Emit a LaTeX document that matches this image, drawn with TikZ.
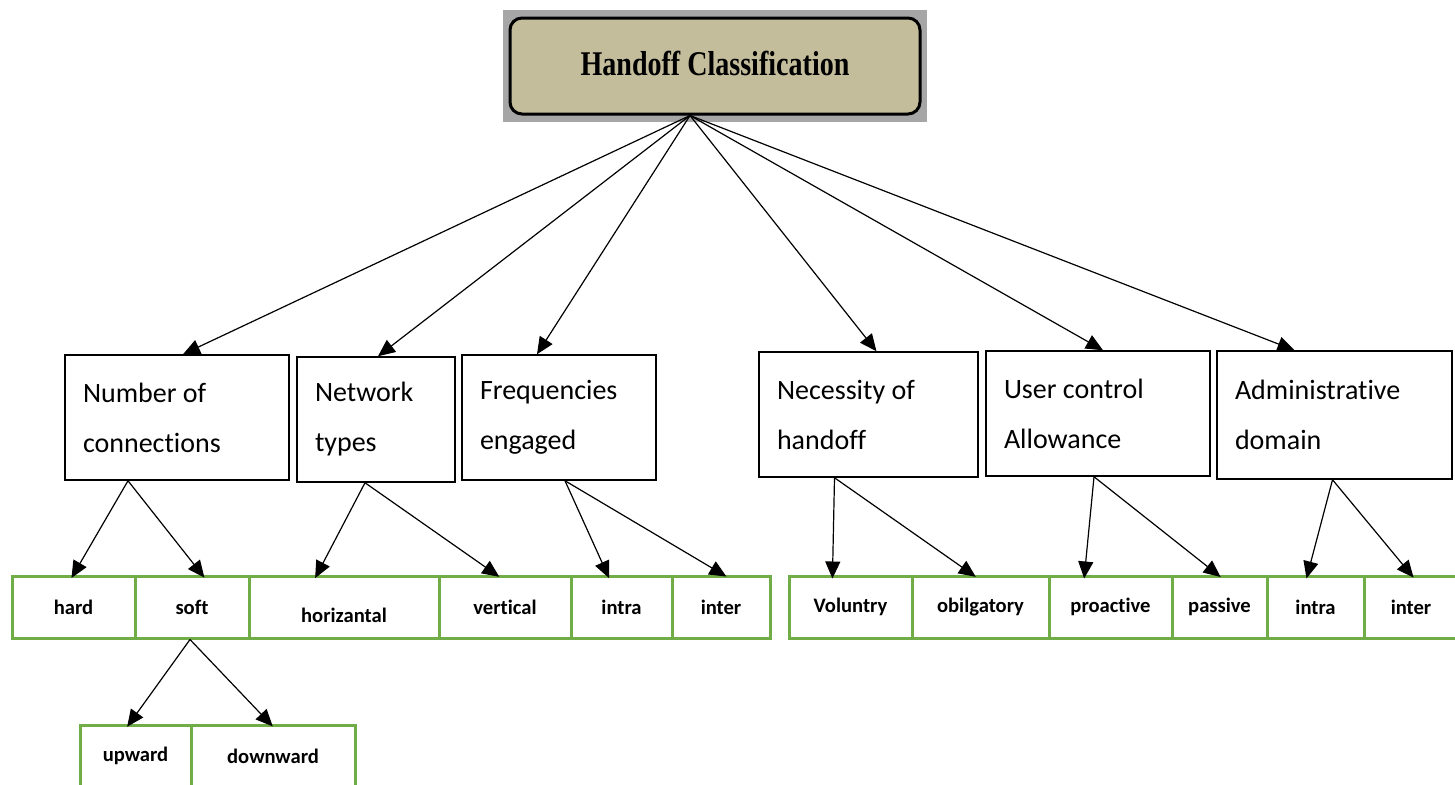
\documentclass[tikz,border=0pt]{standalone}
\usepackage{fontspec}
\usepackage{tikz}
\usetikzlibrary{arrows.meta,calc,positioning}
\newfontfamily\carlito[Ligatures=NoCommon]{Carlito}
\newfontfamily\titlefont{Liberation Serif}
\definecolor{tan}{RGB}{196,189,155}
\definecolor{framegray}{RGB}{166,166,166}
\definecolor{cellgreen}{RGB}{112,173,71}
\tikzstyle{arrow} = [line width=0.6pt, -{Triangle[length=8.5pt,width=7.5pt]}]

\begin{document}
\begin{tikzpicture}[x=0.5pt,y=-0.5pt]
\tikzset{midbox/.style={draw,line width=0.75pt,align=flush left,inner xsep=9pt,minimum height=62.5pt,
  font=\carlito\fontsize{14}{25}\selectfont},
  cell/.style={draw=cellgreen,line width=1.5pt,inner sep=0pt,minimum height=31pt,
  font=\carlito\bfseries\fontsize{10.3}{12}\selectfont}}
\clip (0,0) rectangle (1455,784);

% title
\fill[framegray] (503,10) rectangle (927,122);
\node[draw,line width=1.5pt,fill=tan,rounded corners=6pt,minimum width=205pt,minimum height=48pt]
  (title) at (715,66) {\raisebox{2.5pt}{\titlefont\bfseries\fontsize{16.5}{18}\selectfont\scalebox{0.85}[1.05]{Handoff Classification}}};

% classes
\node[midbox,minimum width=112pt,text width=94pt] (noc) at (177,417.5) {Number of\\connections};
\node[midbox,minimum width=79pt,text width=61pt] (net) at (376,419.5) {Network\\types};
\node[midbox,minimum width=97pt,text width=79pt] (frq) at (559,417.5) {Frequencies\\engaged};
\node[midbox,minimum width=109.5pt,text width=91.5pt] (nec) at (868.5,414.5) {Necessity of\\handoff};
\node[midbox,minimum width=112pt,text width=94pt] (usr) at (1098,413.5) {User control\\Allowance};
\node[midbox,minimum width=117.5pt,text width=99.5pt,minimum height=64pt] (adm) at (1334.5,415) {Administrative\\domain};

% leaf cells
\foreach \n/\l/\x/\w in {hard/hard/73.5/61.5, soft/soft/192/57, hor/{\raisebox{-4pt}[\height][\depth]{horizantal}}/344/95,
  ver/vertical/505/66, intA/intra/621.5/50.5, intB/inter/721/49,
  vol/Voluntry/850.5/61.5, obl/obilgatory/980.5/68.5, pro/proactive/1110.5/61.5,
  pas/passive/1219.5/47.5, intC/intra/1315.5/48.5, intD/inter/1411/47}
  \node[cell,minimum width=\w pt] (\n) at (\x,607) {\l};
\foreach \n/\l/\x/\w in {up/upward/135.5/55.5, down/downward/273/82}
  \node[cell,minimum width=\w pt] (\n) at (\x,756) {\l};

% arrows
\foreach \t/\dx in {noc/3, net/1, frq/-11, nec/4, usr/2.5, adm/-20}
  \draw[arrow] ([xshift=-12.5pt]title.south) -- ([xshift=\dx pt]\t.north);
\foreach \p/\ps/\t/\ts in {noc/-24.5/hard/0, noc/-24.5/soft/5, net/-5.5/hor/-13.5, net/-5.5/ver/-4.5,
  frq/3/intA/-7, frq/3/intB/1, nec/-17/vol/-9, nec/-17/obl/-4, usr/-2/pro/-13, usr/-2/pas/-1,
  adm/-1/intC/-4, adm/-1/intD/0, soft/-1/up/-3, soft/-1/down/-1.5}
  \draw[arrow,shorten >=-2pt] ([xshift=\ps pt]\p.south) -- ([xshift=\ts pt]\t.north);
\end{tikzpicture}
\end{document}
